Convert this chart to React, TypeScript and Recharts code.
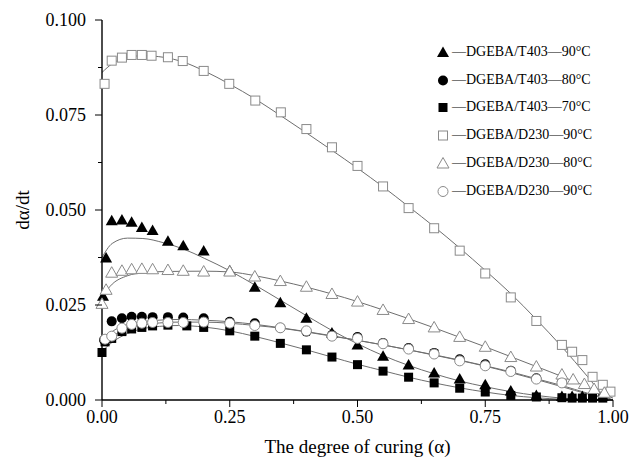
import React from 'react';
import { ComposedChart, Scatter, Line, XAxis, YAxis, Legend } from 'recharts';

// ---- tick labels ----
const xTicks = [0, 0.125, 0.25, 0.375, 0.5, 0.625, 0.75, 0.875, 1];
const xMajor = [0, 0.25, 0.5, 0.75, 1];
const yTicks = [0, 0.0125, 0.025, 0.0375, 0.05, 0.0625, 0.075, 0.0875, 0.1];
const yMajor = [0, 0.025, 0.05, 0.075, 0.1];

// ---- measured points [alpha, dα/dt] ----
const ptsT403_90: number[][] = [
  [0.002, 0.0273], [0.008, 0.0374], [0.019, 0.0472], [0.039, 0.0474], [0.058, 0.0468], [0.078, 0.0454],
  [0.099, 0.0446], [0.129, 0.0418], [0.159, 0.0406], [0.199, 0.0392], [0.25, 0.034], [0.299, 0.0297],
  [0.349, 0.0256], [0.4, 0.0215], [0.45, 0.0176], [0.5, 0.0145], [0.55, 0.0115], [0.6, 0.0092],
  [0.65, 0.0071], [0.7, 0.0055], [0.75, 0.004], [0.8, 0.0024], [0.85, 0.0012], [0.9, 0.0009],
  [0.92, 0.0009], [0.94, 0.0009], [0.96, 0.0009], [0.98, 0.0009],
];
const ptsT403_80: number[][] = [
  [0.004, 0.0158], [0.019, 0.0207], [0.039, 0.0215], [0.058, 0.0219], [0.078, 0.0219], [0.099, 0.0218],
  [0.129, 0.0218], [0.159, 0.0217], [0.199, 0.0215], [0.25, 0.0206], [0.299, 0.0202], [0.349, 0.019],
  [0.4, 0.018], [0.45, 0.0171], [0.5, 0.0166], [0.55, 0.015], [0.6, 0.0137], [0.65, 0.0124],
  [0.7, 0.0107], [0.75, 0.0094], [0.8, 0.0077], [0.85, 0.0057], [0.9, 0.0048],
];
const ptsT403_70: number[][] = [
  [0.0, 0.0125], [0.006, 0.0153], [0.019, 0.0162], [0.039, 0.018], [0.058, 0.0187], [0.078, 0.0191],
  [0.099, 0.0195], [0.129, 0.0197], [0.166, 0.0195], [0.199, 0.0191], [0.25, 0.0182], [0.299, 0.0168],
  [0.349, 0.0149], [0.4, 0.0132], [0.45, 0.0113], [0.5, 0.0093], [0.55, 0.0076], [0.6, 0.006],
  [0.65, 0.0045], [0.7, 0.0031], [0.75, 0.0021], [0.8, 0.0012], [0.85, 0.0008], [0.9, 0.0006],
  [0.92, 0.0005], [0.94, 0.0005], [0.96, 0.0005], [0.98, 0.0005],
];
const ptsD230_90sq: number[][] = [
  [0.005, 0.0832], [0.019, 0.0893], [0.039, 0.0901], [0.058, 0.0908], [0.078, 0.0908], [0.097, 0.0906],
  [0.129, 0.0902], [0.158, 0.0892], [0.199, 0.0866], [0.249, 0.0832], [0.3, 0.0788], [0.35, 0.0757],
  [0.4, 0.0713], [0.45, 0.0665], [0.5, 0.0616], [0.55, 0.0562], [0.6, 0.0505], [0.65, 0.0452],
  [0.7, 0.0393], [0.75, 0.0333], [0.8, 0.027], [0.85, 0.0208], [0.9, 0.0145], [0.92, 0.0127],
  [0.94, 0.0105], [0.96, 0.0061], [0.98, 0.004], [0.995, 0.0022],
];
const ptsD230_80: number[][] = [
  [0.0, 0.0253], [0.008, 0.029], [0.019, 0.0335], [0.039, 0.034], [0.058, 0.0344], [0.078, 0.0345],
  [0.099, 0.0344], [0.129, 0.0342], [0.159, 0.034], [0.199, 0.0338], [0.25, 0.0338], [0.299, 0.0325],
  [0.349, 0.0313], [0.4, 0.0298], [0.45, 0.0279], [0.5, 0.0259], [0.55, 0.0237], [0.6, 0.0213],
  [0.65, 0.0191], [0.7, 0.0166], [0.75, 0.014], [0.8, 0.0113], [0.85, 0.0088], [0.9, 0.0067],
  [0.922, 0.0054], [0.944, 0.0042], [0.963, 0.0029], [0.983, 0.0019],
];
const ptsD230_90ci: number[][] = [
  [0.006, 0.016], [0.019, 0.0168], [0.039, 0.0189], [0.058, 0.0199], [0.078, 0.0202], [0.099, 0.0204],
  [0.129, 0.0204], [0.159, 0.0204], [0.199, 0.0205], [0.25, 0.0202], [0.299, 0.0196], [0.349, 0.019],
  [0.4, 0.0182], [0.45, 0.0168], [0.5, 0.0162], [0.55, 0.0148], [0.6, 0.0134], [0.65, 0.0121],
  [0.7, 0.0103], [0.75, 0.009], [0.8, 0.0075], [0.85, 0.0055], [0.9, 0.0045],
];

// ---- fitted model curves [alpha, dα/dt] ----
const fitT403_90: number[][] = [
  [0, 0.0375], [0.02, 0.0412], [0.05, 0.0426], [0.08, 0.0425], [0.12, 0.0414], [0.16, 0.0397],
  [0.2, 0.0373], [0.25, 0.034], [0.3, 0.0302], [0.35, 0.0262], [0.4, 0.0222], [0.45, 0.0183],
  [0.5, 0.0148], [0.55, 0.0117], [0.6, 0.0091], [0.65, 0.0069], [0.7, 0.005], [0.75, 0.0035],
  [0.8, 0.0022], [0.85, 0.0012], [0.9, 0.0005], [0.95, 0.0001], [1, 0],
];
const fitT403_80: number[][] = [
  [0, 0.0155], [0.02, 0.018], [0.05, 0.0199], [0.1, 0.0209], [0.15, 0.0212], [0.2, 0.021],
  [0.25, 0.0206], [0.3, 0.0199], [0.35, 0.019], [0.4, 0.018], [0.45, 0.0169], [0.5, 0.0157],
  [0.55, 0.0145], [0.6, 0.0132], [0.65, 0.0118], [0.7, 0.0104], [0.75, 0.0089], [0.8, 0.0072],
  [0.85, 0.0054], [0.9, 0.0035], [0.95, 0.0016], [1, 0],
];
const fitT403_70: number[][] = [
  [0, 0.0128], [0.02, 0.0152], [0.05, 0.0175], [0.1, 0.0192], [0.15, 0.0196], [0.2, 0.0192],
  [0.25, 0.0182], [0.3, 0.0167], [0.35, 0.015], [0.4, 0.0132], [0.45, 0.0113], [0.5, 0.0094],
  [0.55, 0.0077], [0.6, 0.006], [0.65, 0.0045], [0.7, 0.0032], [0.75, 0.0021], [0.8, 0.0012],
  [0.85, 0.0006], [0.9, 0.0002], [0.95, 0], [1, 0],
];
const fitD230_90sq: number[][] = [
  [0, 0.0862], [0.02, 0.0885], [0.05, 0.0902], [0.08, 0.0906], [0.12, 0.0902], [0.16, 0.0889],
  [0.2, 0.0866], [0.25, 0.0831], [0.3, 0.0792], [0.35, 0.0748], [0.4, 0.0703], [0.45, 0.0657],
  [0.5, 0.061], [0.55, 0.0561], [0.6, 0.0509], [0.65, 0.0456], [0.7, 0.04], [0.75, 0.0341],
  [0.8, 0.028], [0.85, 0.0212], [0.9, 0.014], [0.95, 0.0062], [0.98, 0.0015], [1, 0],
];
const fitD230_80: number[][] = [
  [0, 0.0272], [0.02, 0.0305], [0.05, 0.0327], [0.08, 0.0335], [0.12, 0.0338], [0.2, 0.0339],
  [0.25, 0.0337], [0.3, 0.0327], [0.35, 0.0313], [0.4, 0.0297], [0.45, 0.0279], [0.5, 0.0259],
  [0.55, 0.0237], [0.6, 0.0214], [0.65, 0.019], [0.7, 0.0165], [0.75, 0.014], [0.8, 0.0114],
  [0.85, 0.0088], [0.9, 0.0062], [0.95, 0.0034], [1, 0.0005],
];
const fitD230_90ci: number[][] = [
  [0, 0.0148], [0.02, 0.0168], [0.05, 0.0188], [0.1, 0.0201], [0.15, 0.0205], [0.2, 0.0205],
  [0.25, 0.0202], [0.3, 0.0196], [0.35, 0.0189], [0.4, 0.0179], [0.45, 0.0168], [0.5, 0.0157],
  [0.55, 0.0145], [0.6, 0.0132], [0.65, 0.0119], [0.7, 0.0105], [0.75, 0.009], [0.8, 0.0074],
  [0.85, 0.0056], [0.9, 0.0038], [0.95, 0.0018], [1, 0],
];

const legendLabels = [
  'DGEBA/T403—90°C',
  'DGEBA/T403—80°C',
  'DGEBA/T403—70°C',
  'DGEBA/D230—90°C',
  'DGEBA/D230—80°C',
  'DGEBA/D230—90°C',
];

const toRows = (pts: number[][]) => pts.map(([x, y]) => ({ x, y }));

const FONT = '"Liberation Serif", "Times New Roman", serif';
const OPEN = '#8a8a8a';
const LINE = '#6e6e6e';

type Kind = 'triF' | 'cirF' | 'sqF' | 'sqO' | 'triO' | 'cirO';

const Marker = ({ kind, cx, cy }: { kind: Kind; cx: number; cy: number }) => {
  switch (kind) {
    case 'triF':
      return <polygon points={`${cx},${cy - 6} ${cx - 6},${cy + 4.5} ${cx + 6},${cy + 4.5}`} fill="#000" />;
    case 'triO':
      return <polygon points={`${cx},${cy - 6} ${cx - 6},${cy + 4.5} ${cx + 6},${cy + 4.5}`} fill="#fff" stroke={OPEN} strokeWidth={1} />;
    case 'cirF':
      return <circle cx={cx} cy={cy} r={5} fill="#000" />;
    case 'cirO':
      return <circle cx={cx} cy={cy} r={5} fill="#fff" stroke={OPEN} strokeWidth={1} />;
    case 'sqF':
      return <rect x={cx - 4.5} y={cy - 4.5} width={9} height={9} fill="#000" />;
    default:
      return <rect x={cx - 4.5} y={cy - 4.5} width={9} height={9} fill="#fff" stroke={OPEN} strokeWidth={1} />;
  }
};

const shapeOf = (kind: Kind) => (p: any) => <Marker kind={kind} cx={p.cx} cy={p.cy} />;

const series: { pts: number[][]; fit: number[][]; kind: Kind; label: string }[] = [
  { pts: ptsT403_90, fit: fitT403_90, kind: 'triF', label: legendLabels[0] },
  { pts: ptsT403_80, fit: fitT403_80, kind: 'cirF', label: legendLabels[1] },
  { pts: ptsT403_70, fit: fitT403_70, kind: 'sqF', label: legendLabels[2] },
  { pts: ptsD230_90sq, fit: fitD230_90sq, kind: 'sqO', label: legendLabels[3] },
  { pts: ptsD230_80, fit: fitD230_80, kind: 'triO', label: legendLabels[4] },
  { pts: ptsD230_90ci, fit: fitD230_90ci, kind: 'cirO', label: legendLabels[5] },
];

const near = (a: number, list: number[]) => list.some((b) => Math.abs(a - b) < 1e-9);

const XTick = (props: any) => {
  const { x, y, payload } = props;
  const major = near(payload.value, xMajor);
  return (
    <g>
      <line x1={x} x2={x} y1={y} y2={y + (major ? 7 : 4)} stroke="#000" strokeWidth={1} />
      {major && (
        <text x={x} y={y + 23} textAnchor="middle" fontSize={18} fontFamily={FONT} fill="#000">
          {payload.value.toFixed(2)}
        </text>
      )}
    </g>
  );
};

const YTick = (props: any) => {
  const { x, y, payload } = props;
  const major = near(payload.value, yMajor);
  return (
    <g>
      <line x1={x} x2={x - (major ? 7 : 4)} y1={y} y2={y} stroke="#000" strokeWidth={1} />
      {major && (
        <text x={x - 16} y={y} dy="0.35em" textAnchor="end" fontSize={18} fontFamily={FONT} fill="#000">
          {payload.value.toFixed(3)}
        </text>
      )}
    </g>
  );
};

const LegendBox = () => (
  <div style={{ fontFamily: FONT, fontSize: 14, color: '#000' }}>
    {series.map((s, i) => (
      <div key={i} style={{ height: 27.8, display: 'flex', alignItems: 'center', whiteSpace: 'nowrap' }}>
        <svg width={16} height={14} style={{ display: 'block' }}>
          <Marker kind={s.kind} cx={7} cy={7.5} />
        </svg>
        <span>{'—' + s.label}</span>
      </div>
    ))}
  </div>
);

export default function App() {
  return (
    <div style={{ position: 'absolute', left: 0, top: 0, background: '#fff' }}>
      <ComposedChart width={632} height={459} margin={{ top: 20, right: 19, bottom: 0, left: 0 }}>
        <XAxis
          dataKey="x"
          type="number"
          domain={[0, 1]}
          ticks={xTicks}
          interval={0}
          height={59}
          tickSize={0}
          tickMargin={0}
          tickLine={false}
          axisLine={{ stroke: '#000', strokeWidth: 1.4 }}
          tick={<XTick />}
          label={{ value: 'The degree of curing (α)', position: 'insideBottom', offset: 6, fontSize: 19, fontFamily: FONT, fill: '#000' }}
        />
        <XAxis xAxisId="top" dataKey="x" type="number" domain={[0, 1]} orientation="top" height={0} tick={false} tickLine={false} axisLine={{ stroke: '#000', strokeWidth: 1.4 }} />
        <YAxis
          type="number"
          domain={[0, 0.1]}
          ticks={yTicks}
          interval={0}
          width={102}
          tickSize={0}
          tickMargin={0}
          tickLine={false}
          axisLine={{ stroke: '#000', strokeWidth: 1.4 }}
          tick={<YTick />}
          label={{ value: 'dα/dt', angle: -90, position: 'insideLeft', offset: 22, fontSize: 19, fontFamily: FONT, fill: '#000', style: { textAnchor: 'middle' } }}
        />
        <YAxis yAxisId="right" type="number" domain={[0, 0.1]} orientation="right" width={0} tick={false} tickLine={false} axisLine={{ stroke: '#000', strokeWidth: 1.4 }} />
        {series.map((s, i) => (
          <Scatter key={'s' + i} data={toRows(s.pts)} dataKey="y" shape={shapeOf(s.kind)} isAnimationActive={false} />
        ))}
        {series.map((s, i) => (
          <Line key={'l' + i} data={toRows(s.fit)} dataKey="y" type="monotone" stroke={LINE} strokeWidth={1} dot={false} activeDot={false} isAnimationActive={false} />
        ))}
        <Legend
          layout="horizontal"
          verticalAlign="middle"
          align="center"
          content={<LegendBox />}
          wrapperStyle={{ position: 'absolute', top: 38, left: 436, width: 196, height: 170 }}
        />
      </ComposedChart>
    </div>
  );
}
